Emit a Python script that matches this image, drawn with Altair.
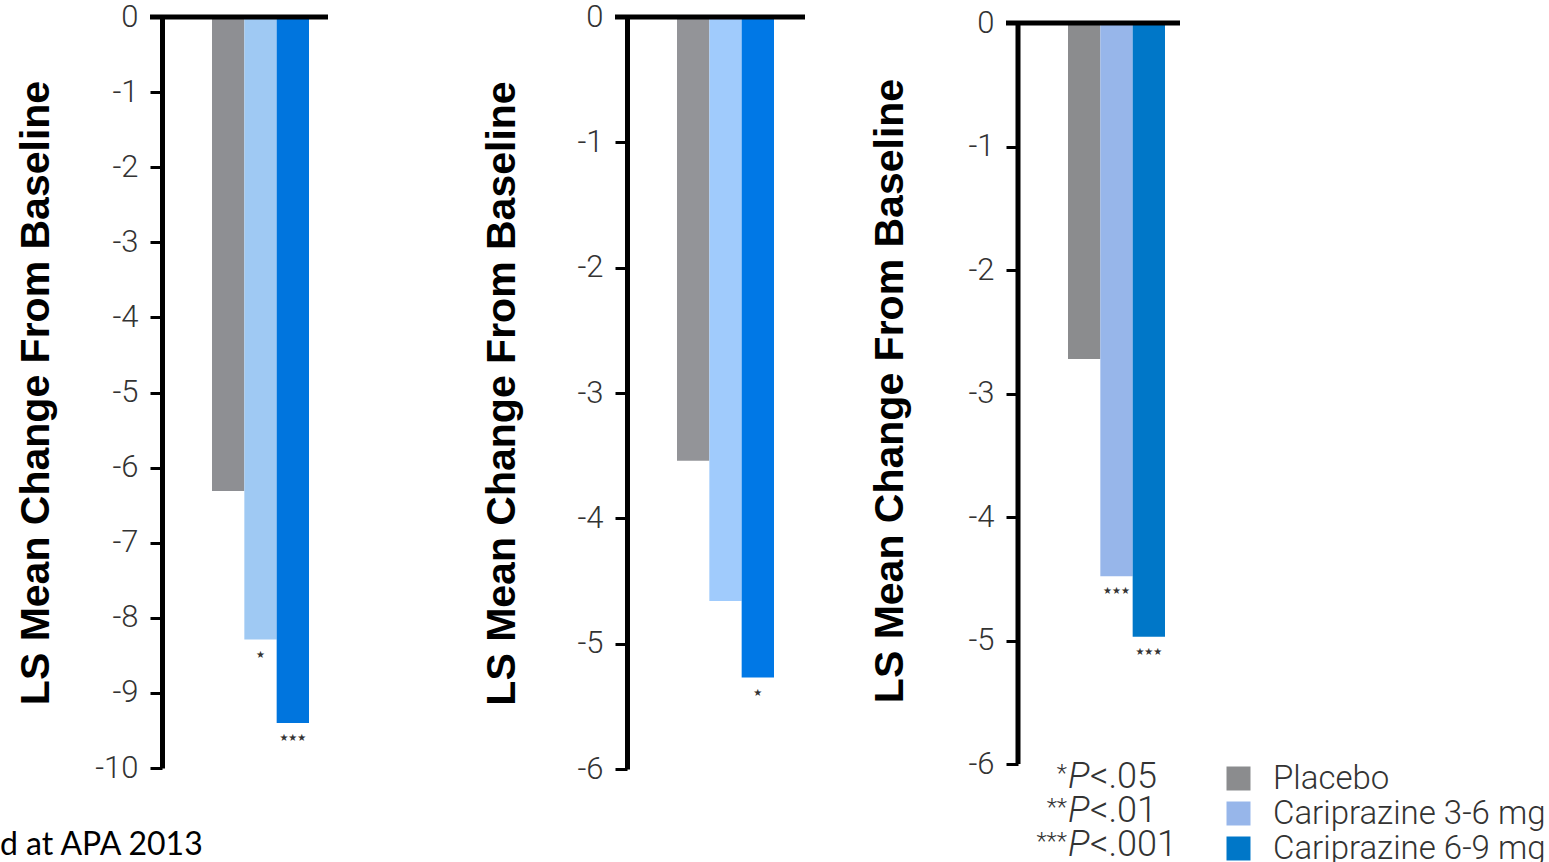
import altair as alt
import pandas as pd

treatments = ["Placebo", "Cariprazine 3-6 mg", "Cariprazine 6-9 mg"]

p1_values = [-6.31, -8.29, -9.40]
p2_values = [-3.54, -4.66, -5.27]
p3_values = [-2.72, -4.48, -4.97]

p1_sig = ["", "★", "★★★"]
p2_sig = ["", "", "★"]
p3_sig = ["", "★★★", "★★★"]

p1_colors = ["#8e8f93", "#9fc9f3", "#0075de"]
p2_colors = ["#939498", "#a0cbfc", "#0078e6"]
p3_colors = ["#8b8c8e", "#97b6ea", "#0077c8"]

p1_ticks = [0, -1, -2, -3, -4, -5, -6, -7, -8, -9, -10]
p2_ticks = [0, -1, -2, -3, -4, -5, -6]
p3_ticks = [0, -1, -2, -3, -4, -5, -6]

y_title = "LS Mean Change From Baseline"
footnote = "d at APA 2013"
pvalue_stars = ["*", "**", "***"]
pvalue_letter = ["P", "P", "P"]
pvalue_thresholds = ["<.05", "<.01", "<.001"]

LABEL_FONT = "Roboto"


def panel(values, sig, colors, ticks, domain, width, height, title_pad,
          hline_x2, draw_domain, legend):
    df = pd.DataFrame({"treatment": treatments, "value": values, "sig": sig})
    base = alt.Chart(df)
    yscale = alt.Scale(domain=domain, nice=False, zero=False)
    xenc = alt.X("treatment:N", sort=treatments, axis=None,
                 scale=alt.Scale(domain=treatments, range=[50, 147],
                                 paddingInner=0, paddingOuter=0))
    axis = alt.Axis(values=ticks,
                    labelExpr="datum.value == 0 ? '0' : '-' + abs(datum.value)",
                    title=y_title, titleFont="Liberation Sans", titleFontSize=41,
                    titleFontWeight="bold", titleColor="black",
                    titlePadding=title_pad,
                    labelFont=LABEL_FONT, labelFontWeight=300, labelFontSize=31,
                    labelColor="#333333", labelPadding=12,
                    tickSize=12, tickWidth=3, tickColor="black",
                    domain=draw_domain, domainWidth=5, domainColor="black",
                    grid=False, labelOverlap=False, labelFlush=False)
    bars = base.mark_bar().encode(
        x=xenc,
        y=alt.Y("value:Q", scale=yscale, axis=axis),
        y2=alt.datum(0),
        color=alt.Color("treatment:N", sort=treatments,
                        scale=alt.Scale(domain=treatments, range=colors),
                        legend=legend),
    )
    stars = base.mark_text(font="DejaVu Sans", fontSize=10, color="#333333",
                           baseline="middle", dy=15).encode(
        x=xenc, y=alt.Y("value:Q"), text="sig:N")
    zero_df = pd.DataFrame({"v": [0]})
    hline = alt.Chart(zero_df).mark_rule(color="black", strokeWidth=5).encode(
        x=alt.value(-12), x2=alt.value(hline_x2), y=alt.Y("v:Q"))
    layers = [bars, stars, hline]
    if not draw_domain:
        vrule = alt.Chart(pd.DataFrame({"a": [0], "b": [min(ticks)]})).mark_rule(
            color="black", strokeWidth=5).encode(
            x=alt.value(0), y=alt.Y("a:Q"), y2="b:Q")
        layers.append(vrule)
    return alt.layer(*layers).properties(width=width, height=height)


p1 = panel(p1_values, p1_sig, p1_colors, p1_ticks, [-10, 0], 305, 751, 37,
           166, True, None)
foot = alt.Chart(pd.DataFrame({"t": [footnote]})).mark_text(
    align="left", baseline="middle", font="Lato", fontSize=32, color="black").encode(
    x=alt.value(-162), y=alt.value(828), text="t:N")
p1 = alt.layer(p1, foot)

p2 = panel(p2_values, p2_sig, p2_colors, p2_ticks, [-6, 0], 231, 752, 53,
           178, True, None)

legend3 = alt.Legend(orient="none", legendX=204, legendY=745, title=None,
                     symbolType="square", symbolSize=576, symbolStrokeWidth=0,
                     labelFont=LABEL_FONT, labelFontWeight=300, labelFontSize=33,
                     labelColor="#333333", labelOffset=18, rowPadding=1,
                     padding=0, labelLimit=500)
p3 = panel(p3_values, p3_sig, p3_colors, p3_ticks, [-6, 0.0486], 165, 747, 56,
           162, False, legend3)

pv_df = pd.DataFrame({
    "stars": ["\n".join(pvalue_stars)],
    "letter": ["\n".join(pvalue_letter)],
    "thr": ["\n".join(pvalue_thresholds)],
})
pv_common = dict(baseline="middle", font=LABEL_FONT, fontWeight=300,
                 color="#333333", lineBreak="\n", lineHeight=34)
pv_stars = alt.Chart(pv_df).mark_text(align="right", fontSize=24, dy=-3,
                                      **pv_common).encode(
    x=alt.value(49), y=alt.value(760), text="stars:N")
pv_p = alt.Chart(pv_df).mark_text(align="left", fontStyle="italic", fontSize=36,
                                  **pv_common).encode(
    x=alt.value(50), y=alt.value(760), text="letter:N")
pv_thr = alt.Chart(pv_df).mark_text(align="left", fontSize=36, **pv_common).encode(
    x=alt.value(72), y=alt.value(760), text="thr:N")
p3 = alt.layer(p3, pv_stars, pv_p, pv_thr)

chart = alt.hconcat(p1, p2, p3, spacing=160, bounds="flush").resolve_scale(
    color="independent", y="independent", x="independent"
).properties(
    padding={"left": 0, "top": 1, "right": 0, "bottom": 0},
    background="white",
).configure_view(stroke=None)

chart.save("out.html", embed_options={"renderer": "svg", "actions": False})
